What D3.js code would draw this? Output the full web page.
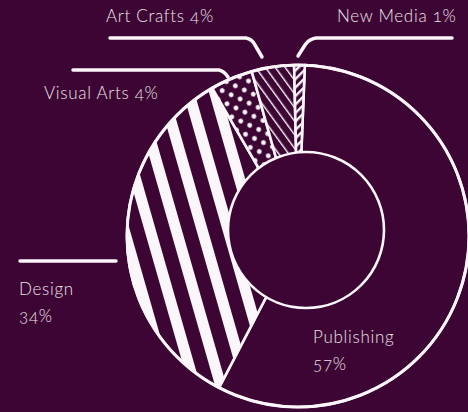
<!DOCTYPE html>
<html>
<head>
<meta charset="utf-8">
<script src="https://cdn.jsdelivr.net/npm/d3@7"></script>
<style>
  html, body { margin: 0; padding: 0; background: #3d0533; }
  svg { display: block; }
  text { font-family: Lato, "Open Sans", sans-serif; font-weight: 300; fill: #ece2ea; letter-spacing: 0.7px; font-feature-settings: "onum" 1; font-variant-numeric: oldstyle-nums; }
</style>
</head>
<body>
<svg id="chart" width="468" height="412"></svg>
<script>
// ---- data ----
const categories = ["Publishing", "Design", "Visual Arts", "Art Crafts", "New Media"];
const values = [57, 34, 4, 4, 1];
const labels = ["Publishing", "Design", "Visual Arts 4%", "Art Crafts 4%", "New Media 1%"];
const percentLabels = ["57%", "34%", "", "", ""];

// ---- layout ----
const W = 468, H = 412, BG = "#3d0533", INK = "#fbf6fa";
const cx = 298, cy = 236, rOuter = 171;
const hole = { x: 306, y: 230, r: 78 };

const svg = d3.select("#chart");
svg.append("rect").attr("width", W).attr("height", H).attr("fill", BG);

const defs = svg.append("defs");
// Design: wide stripes
const pDesign = defs.append("pattern").attr("id", "p-design").attr("patternUnits", "userSpaceOnUse")
  .attr("width", 25).attr("height", 25).attr("patternTransform", "rotate(-16)");
pDesign.append("rect").attr("width", 25).attr("height", 25).attr("fill", BG);
pDesign.append("rect").attr("x", 4).attr("width", 11).attr("height", 25).attr("fill", INK);
// Visual Arts: dots
const pDots = defs.append("pattern").attr("id", "p-dots").attr("patternUnits", "userSpaceOnUse")
  .attr("width", 14).attr("height", 14).attr("patternTransform", "rotate(-20) translate(3,2)");
pDots.append("rect").attr("width", 14).attr("height", 14).attr("fill", BG);
pDots.append("circle").attr("cx", 3.5).attr("cy", 3.5).attr("r", 2.4).attr("fill", INK);
pDots.append("circle").attr("cx", 10.5).attr("cy", 10.5).attr("r", 2.4).attr("fill", INK);
// Art Crafts: thin diagonal lines
const pThin = defs.append("pattern").attr("id", "p-thin").attr("patternUnits", "userSpaceOnUse")
  .attr("width", 8).attr("height", 8).attr("patternTransform", "rotate(-36)");
pThin.append("rect").attr("width", 8).attr("height", 8).attr("fill", BG);
pThin.append("rect").attr("x", 0).attr("width", 1.4).attr("height", 8).attr("fill", INK);
// New Media: thick "/" hatch
const pHatch = defs.append("pattern").attr("id", "p-hatch").attr("patternUnits", "userSpaceOnUse")
  .attr("width", 6).attr("height", 6).attr("patternTransform", "rotate(-45)");
pHatch.append("rect").attr("width", 6).attr("height", 6).attr("fill", BG);
pHatch.append("rect").attr("y", 0).attr("width", 6).attr("height", 2.4).attr("fill", INK);

const fills = [BG, "url(#p-design)", "url(#p-dots)", "url(#p-thin)", "url(#p-hatch)"];

const data = categories.map((c, i) => ({ category: c, value: values[i], i }));
const offset = 0.04;
const pie = d3.pie().value(d => d.value).sort(null).startAngle(offset).endAngle(offset + 2 * Math.PI);
const arc = d3.arc().innerRadius(0).outerRadius(rOuter);

const g = svg.append("g").attr("transform", `translate(${cx},${cy})`);
const arcs = pie(data);
g.selectAll("path.slice").data(arcs).join("path")
  .attr("class", "slice")
  .attr("d", arc)
  .attr("fill", d => fills[d.data.i])
  .attr("stroke", INK).attr("stroke-width", 2.6).attr("stroke-linejoin", "round");

// outer rim
g.append("circle").attr("r", rOuter).attr("fill", "none").attr("stroke", INK).attr("stroke-width", 3);

// hole
svg.append("circle").attr("cx", hole.x).attr("cy", hole.y).attr("r", hole.r)
  .attr("fill", BG).attr("stroke", INK).attr("stroke-width", 2.6);

// ---- leader lines ----
const leaders = [
  "M110,38 L246,38 Q252,39 255,45 L262,57",
  "M298,56 L305,45 Q309,39 316,38 L452,38",
  "M73,70 L219,70 Q224,71 228,77",
  "M20,261 L116,261"
];
svg.selectAll("path.leader").data(leaders).join("path")
  .attr("class", "leader").attr("d", d => d)
  .attr("fill", "none").attr("stroke", INK).attr("stroke-width", 3.5)
  .attr("stroke-linecap", "round").attr("stroke-linejoin", "round");

// ---- labels ----
const labelPos = [
  { x: 313, y: 343 }, { x: 19, y: 295 }, { x: 44, y: 99 }, { x: 106, y: 22 }, { x: 337, y: 22 }
];
const lineGap = 27;
labels.forEach((t, i) => {
  svg.append("text").attr("x", labelPos[i].x).attr("y", labelPos[i].y)
    .attr("font-size", 17).text(t);
  if (percentLabels[i]) {
    svg.append("text").attr("x", labelPos[i].x).attr("y", labelPos[i].y + lineGap)
      .attr("font-size", 17).text(percentLabels[i]);
  }
});
</script>
</body>
</html>
